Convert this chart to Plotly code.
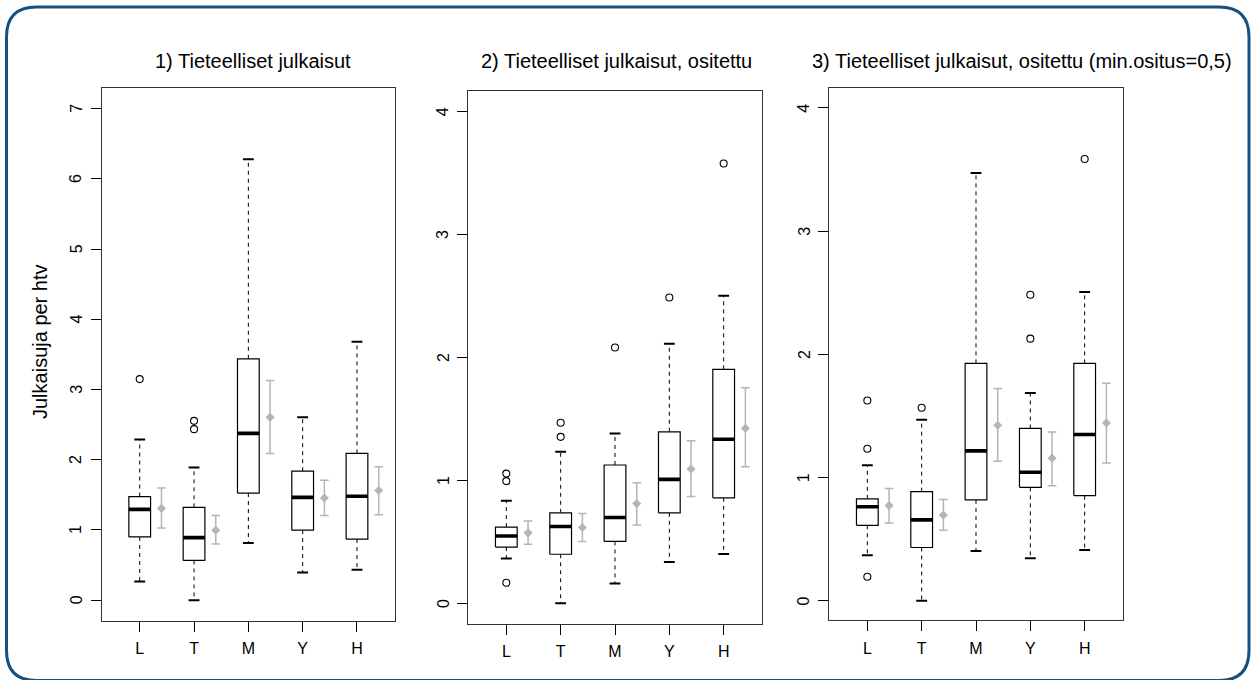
import plotly.graph_objects as go

W, H = 1251, 680

categories = ["L", "T", "M", "Y", "H"]
titles = ["1) Tieteelliset julkaisut",
          "2) Tieteelliset julkaisut, ositettu",
          "3) Tieteelliset julkaisut, ositettu (min.ositus=0,5)"]
y_title = "Julkaisuja per htv"

# Panel 1
p1_low = [0.265, 0.0, 0.814, 0.392, 0.433]
p1_q1 = [0.90, 0.565, 1.525, 0.997, 0.87]
p1_med = [1.292, 0.89, 2.375, 1.464, 1.48]
p1_q3 = [1.475, 1.322, 3.437, 1.836, 2.09]
p1_high = [2.288, 1.89, 6.279, 2.603, 3.68]
p1_out = [[3.148], [2.435, 2.553], [], [], []]
p1_mean = [1.307, 0.997, 2.603, 1.455, 1.561]
p1_ci_lo = [1.028, 0.80, 2.09, 1.205, 1.215]
p1_ci_hi = [1.597, 1.205, 3.127, 1.708, 1.90]

# Panel 2
p2_low = [0.363, 0.0, 0.16, 0.336, 0.401]
p2_q1 = [0.456, 0.398, 0.502, 0.735, 0.857]
p2_med = [0.546, 0.624, 0.697, 1.007, 1.333]
p2_q3 = [0.619, 0.735, 1.124, 1.394, 1.902]
p2_high = [0.833, 1.231, 1.38, 2.109, 2.501]
p2_out = [[0.166, 0.993, 1.054], [1.353, 1.467], [2.08], [2.486], [3.576]]
p2_mean = [0.572, 0.615, 0.81, 1.092, 1.423]
p2_ci_lo = [0.479, 0.502, 0.636, 0.868, 1.109]
p2_ci_hi = [0.668, 0.729, 0.979, 1.321, 1.752]

# Panel 3
p3_low = [0.369, 0.0, 0.404, 0.345, 0.412]
p3_q1 = [0.612, 0.432, 0.818, 0.92, 0.853]
p3_med = [0.763, 0.656, 1.216, 1.042, 1.349]
p3_q3 = [0.827, 0.885, 1.926, 1.398, 1.926]
p3_high = [1.10, 1.468, 3.472, 1.686, 2.506]
p3_out = [[0.195, 1.233, 1.625], [1.566], [], [2.127, 2.483], [3.585]]
p3_mean = [0.772, 0.696, 1.424, 1.157, 1.442]
p3_ci_lo = [0.630, 0.572, 1.131, 0.934, 1.117]
p3_ci_hi = [0.911, 0.821, 1.723, 1.37, 1.764]

panels = [
    dict(low=p1_low, q1=p1_q1, med=p1_med, q3=p1_q3, high=p1_high, out=p1_out,
         mean=p1_mean, lo=p1_ci_lo, hi=p1_ci_hi),
    dict(low=p2_low, q1=p2_q1, med=p2_med, q3=p2_q3, high=p2_high, out=p2_out,
         mean=p2_mean, lo=p2_ci_lo, hi=p2_ci_hi),
    dict(low=p3_low, q1=p3_q1, med=p3_med, q3=p3_q3, high=p3_high, out=p3_out,
         mean=p3_mean, lo=p3_ci_lo, hi=p3_ci_hi),
]
y_ticks = [list(range(0, 8)), list(range(0, 5)), list(range(0, 5))]
y_ranges = [[-0.29, 7.295], [-0.166, 4.168], [-0.159, 4.162]]

# pixel layout of plot boxes (left, right, top, bottom)
boxes_px = [(101.7, 395.0, 87.9, 620.5), (468.3, 761.7, 90.7, 623.6), (829.3, 1122.7, 87.9, 620.3)]
title_px = [(252.5, 61), (616.7, 61), (1021.7, 61)]
ylabel_gap_px = 25.5  # distance from axis line to centre of y tick labels


def px_x(px):
    return px / W


def px_y(py):
    return 1 - py / H


FONT = "Liberation Sans, Arial, Helvetica, sans-serif"
GRAY = "#b5b5b5"
HALF = 0.2
STAPLE = 0.1
OFF = 0.4
CAP = 0.08

fig = go.Figure()
pos = list(range(1, len(categories) + 1))

for k, p in enumerate(panels):
    xa = "x" if k == 0 else f"x{k+1}"
    ya = "y" if k == 0 else f"y{k+1}"
    common = dict(xaxis=xa, yaxis=ya, showlegend=False, hoverinfo="skip")
    wx, wy, sx, sy, bx, by, mx, my, ox, oy, ex, ey = ([] for _ in range(12))
    for i, x in enumerate(pos):
        wx += [x, x, None, x, x, None]
        wy += [p["q3"][i], p["high"][i], None, p["q1"][i], p["low"][i], None]
        sx += [x - STAPLE, x + STAPLE, None, x - STAPLE, x + STAPLE, None]
        sy += [p["high"][i], p["high"][i], None, p["low"][i], p["low"][i], None]
        bx += [x - HALF, x + HALF, x + HALF, x - HALF, x - HALF, None]
        by += [p["q1"][i], p["q1"][i], p["q3"][i], p["q3"][i], p["q1"][i], None]
        mx += [x - HALF, x + HALF, None]
        my += [p["med"][i], p["med"][i], None]
        for v in p["out"][i]:
            ox.append(x)
            oy.append(v)
        xe = x + OFF
        ex += [xe, xe, None, xe - CAP, xe + CAP, None, xe - CAP, xe + CAP, None]
        ey += [p["lo"][i], p["hi"][i], None, p["lo"][i], p["lo"][i], None,
               p["hi"][i], p["hi"][i], None]
    fig.add_trace(go.Scatter(x=wx, y=wy, mode="lines",
                             line=dict(color="black", width=1, dash="4px,4px"), **common))
    fig.add_trace(go.Scatter(x=sx, y=sy, mode="lines",
                             line=dict(color="black", width=2), **common))
    fig.add_trace(go.Scatter(x=bx, y=by, mode="lines", fill="toself", fillcolor="white",
                             line=dict(color="black", width=1.2), **common))
    fig.add_trace(go.Scatter(x=mx, y=my, mode="lines",
                             line=dict(color="black", width=3.6), **common))
    fig.add_trace(go.Scatter(x=ox, y=oy, mode="markers",
                             marker=dict(symbol="circle-open", size=7, color="black",
                                         line=dict(width=1.1)), **common))
    fig.add_trace(go.Scatter(x=ex, y=ey, mode="lines",
                             line=dict(color=GRAY, width=1.5), **common))
    fig.add_trace(go.Scatter(x=[x + OFF for x in pos], y=p["mean"], mode="markers",
                             marker=dict(symbol="diamond", size=7, color=GRAY), **common))

layout = dict(
    width=W, height=H, autosize=False,
    margin=dict(l=0, r=0, t=0, b=0),
    paper_bgcolor="white", plot_bgcolor="white",
    font=dict(family=FONT, color="black"),
)
annotations = []
for k in range(3):
    l, r, t, b = boxes_px[k]
    sfx = "" if k == 0 else str(k + 1)
    layout["xaxis" + sfx] = dict(
        domain=[px_x(l), px_x(r)], range=[0.3, 5.7], anchor="y" + sfx,
        tickvals=pos, ticktext=categories, ticks="outside", ticklen=10,
        tickcolor="black", tickwidth=1, showline=True, mirror=True,
        linecolor="#333333", linewidth=1, showgrid=False, zeroline=False,
        ticklabelstandoff=3,
        tickfont=dict(size=16, family=FONT, color="black"), fixedrange=True,
    )
    layout["yaxis" + sfx] = dict(
        domain=[px_y(b), px_y(t)], range=y_ranges[k], anchor="x" + sfx,
        tickvals=y_ticks[k], ticks="outside", ticklen=10, showticklabels=False,
        tickcolor="black", tickwidth=1, showline=True, mirror=True,
        linecolor="#333333", linewidth=1, showgrid=False, zeroline=False,
        fixedrange=True,
    )
    # vertical (rotated) tick labels placed at the axis tick values
    for v in y_ticks[k]:
        annotations.append(dict(text=str(v), x=px_x(l - ylabel_gap_px), y=v,
                                xref="paper", yref="y" + sfx,
                                xanchor="center", yanchor="middle", showarrow=False,
                                textangle=-90,
                                font=dict(size=16, family=FONT, color="black")))

for k in range(3):
    tx, ty = title_px[k]
    annotations.append(dict(text=titles[k], x=px_x(tx), y=px_y(ty), xref="paper", yref="paper",
                            xanchor="center", yanchor="middle", showarrow=False,
                            font=dict(size=20, family=FONT, color="black")))
annotations.append(dict(text=y_title, x=px_x(40), y=px_y(342), xref="paper", yref="paper",
                        xanchor="center", yanchor="middle", showarrow=False, textangle=-90,
                        font=dict(size=20, family=FONT, color="black")))
layout["annotations"] = annotations

# rounded outer frame
x0, x1, y0, y1, r = 6.5, 1249.0, 7.0, 680.5, 30.0


def P(px, py):
    return f"{px_x(px):.5f},{px_y(py):.5f}"


path = (f"M {P(x0 + r, y0)} L {P(x1 - r, y0)} Q {P(x1, y0)} {P(x1, y0 + r)} "
        f"L {P(x1, y1 - r)} Q {P(x1, y1)} {P(x1 - r, y1)} "
        f"L {P(x0 + r, y1)} Q {P(x0, y1)} {P(x0, y1 - r)} "
        f"L {P(x0, y0 + r)} Q {P(x0, y0)} {P(x0 + r, y0)} Z")
layout["shapes"] = [dict(type="path", path=path, xref="paper", yref="paper",
                         line=dict(color="#17507f", width=3), layer="below")]

fig.update_layout(**layout)
fig.write_html("out.html", config={"displayModeBar": False},
               post_script="document.body.style.margin='0';document.body.style.overflow='hidden';")
